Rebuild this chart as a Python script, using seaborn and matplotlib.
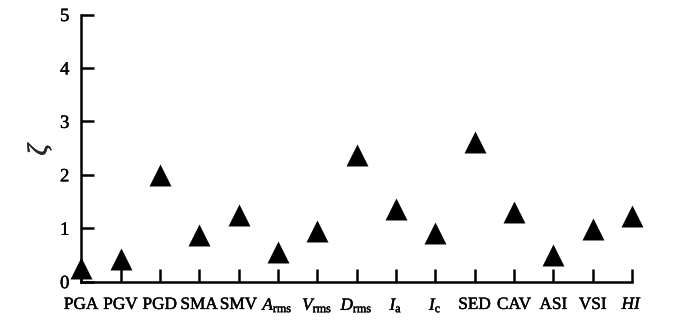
import matplotlib
matplotlib.use("Agg")
import matplotlib.pyplot as plt
import matplotlib.patheffects as pe
import seaborn as sns
import pandas as pd

# Intensity measures and their zeta values
measures = ["PGA", "PGV", "PGD", "SMA", "SMV", "Arms", "Vrms", "Drms",
            "Ia", "Ic", "SED", "CAV", "ASI", "VSI", "HI"]
tick_labels = ["PGA", "PGV", "PGD", "SMA", "SMV",
               r"$A_{\mathrm{rms}}$", r"$V_{\mathrm{rms}}$", r"$D_{\mathrm{rms}}$",
               r"$I_{\mathrm{a}}$", r"$I_{\mathrm{c}}$",
               "SED", "CAV", "ASI", "VSI", r"$HI$"]
zeta = [0.26, 0.43, 1.99, 0.88, 1.25, 0.55, 0.95, 2.37,
        1.36, 0.91, 2.61, 1.30, 0.49, 0.98, 1.22]
y_ticks = [0, 1, 2, 3, 4, 5]

sns.set_theme(style="ticks")
plt.rcParams["font.family"] = ["Liberation Serif", "DejaVu Serif"]
plt.rcParams["mathtext.fontset"] = "custom"
plt.rcParams["mathtext.rm"] = "Liberation Serif"
plt.rcParams["mathtext.it"] = "Liberation Serif:italic"
plt.rcParams["mathtext.bf"] = "Liberation Serif:bold"

df = pd.DataFrame({"measure": measures, "zeta": zeta})

fig = plt.figure(figsize=(7.0, 3.23), dpi=100)
ax = fig.add_axes([0.116, 0.128, 0.787, 0.827])

sns.scatterplot(data=df, x="measure", y="zeta", marker="^", s=250,
                color="black", edgecolor="black", linewidth=0,
                clip_on=False, zorder=3, ax=ax)

ax.set_xlim(0, len(measures) - 1)
ax.set_ylim(0, 5)
ax.set_xticks(range(len(measures)))
ax.set_xticklabels(tick_labels)
ax.set_yticks(y_ticks)
ax.set_yticklabels([str(v) for v in y_ticks])

ax.set_xlabel("")
ax.set_ylabel(r"$\zeta$", fontsize=20, labelpad=4)

for side in ("top", "right"):
    ax.spines[side].set_visible(False)
for side in ("left", "bottom"):
    ax.spines[side].set_linewidth(1.8)
    ax.spines[side].set_color("black")

ax.tick_params(axis="both", direction="in", length=9.5, width=1.8,
               colors="black")
ax.tick_params(axis="x", labelsize=12.4, pad=11)
ax.tick_params(axis="y", labelsize=13.5, pad=8.5)

# slightly heavier strokes for all text
heavy = [pe.withStroke(linewidth=0.3, foreground="black")]
for t in ax.get_xticklabels() + ax.get_yticklabels() + [ax.yaxis.label]:
    t.set_path_effects(heavy)

fig.savefig("out.png", dpi=100)
